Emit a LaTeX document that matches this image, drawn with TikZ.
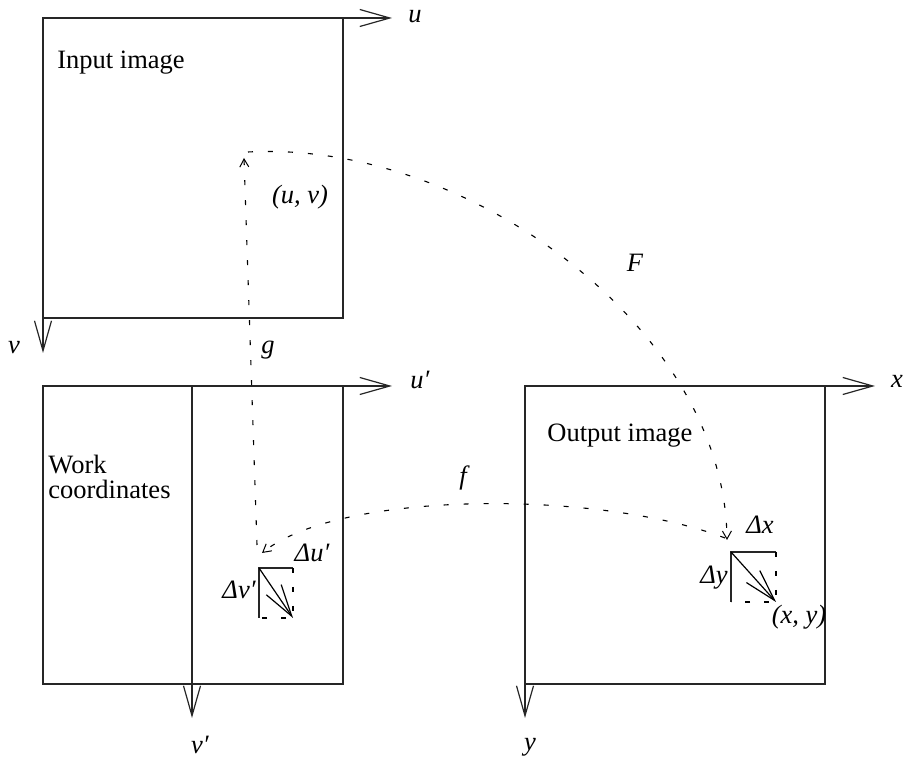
\documentclass[tikz,border=0pt]{standalone}
\usepackage{fontspec}
\setmainfont{Liberation Serif}
\usetikzlibrary{arrows.meta}
\begin{document}
\begin{tikzpicture}[x=0.5pt,y=-0.5pt,
  frame/.style={line width=0.6pt, draw=black!85},
  axis/.style={line width=0.6pt, draw=black!85, -{Straight Barb[length=15pt,width=8.5pt,line width=0.6pt]}},
  txt/.style={font=\fontsize{13.25}{12.5}\selectfont, inner sep=0pt, align=left},
  lbl/.style={font=\fontsize{13.25}{16}\selectfont\itshape, inner sep=0pt},
  map/.style={line width=0.55pt, dash pattern=on 2.5pt off 7.5pt},
  maptip/.style={-{Straight Barb[length=4pt,width=4.5pt,line width=0.5pt]}},
  delta/.style={line width=0.6pt, -{Straight Barb[length=16pt,width=9pt,line width=0.6pt]}},
  side/.style={line width=0.6pt, dash pattern=on 2.5pt off 7pt}
]
\useasboundingbox (0,0) rectangle (905,758);

% ---------- Input image ----------
\coordinate (inTL) at (43,18);
\coordinate (inBR) at (343,318);
\coordinate (uEnd) at (392,18);
\coordinate (vEnd) at (43,353);
\draw[frame] (inTL) rectangle (inBR);
\draw[axis] (inTL) -- (uEnd);
\draw[axis] (inTL) -- (vEnd);
\node[txt, anchor=base west] (inLbl) at (57,69) {Input image};
\node[lbl] (uL) at (415,17) {u};
\node[lbl] (vL) at (14,348) {v};

% ---------- Work coordinates ----------
\coordinate (wkTL) at (43,386);
\coordinate (wkBR) at (343,684);
\coordinate (wkDivTop) at (192,386);
\coordinate (wkDivBot) at (192,684);
\coordinate (upEnd) at (392,386);
\coordinate (vpEnd) at (192,718);
\draw[frame] (wkTL) rectangle (wkBR);
\draw[frame] (wkDivTop) -- (wkDivBot);
\draw[axis] (wkTL) -- (upEnd);
\draw[axis] (wkDivBot) -- (vpEnd);
\node[txt, anchor=base west] (wkLbl1) at (48,474) {Work};
\node[txt, anchor=base west] (wkLbl2) at (48,499) {coordinates};
\node[lbl] (upL) at (420,380) {u′};
\node[lbl] (vpL) at (200,745) {v′};

% ---------- Output image ----------
\coordinate (outTL) at (525,386);
\coordinate (outBR) at (825,684);
\coordinate (xEnd) at (875,386);
\coordinate (yEnd) at (525,718);
\draw[frame] (outTL) rectangle (outBR);
\draw[axis] (outTL) -- (xEnd);
\draw[axis] (outTL) -- (yEnd);
\node[txt, anchor=base west] (outLbl) at (547,442) {Output image};
\node[lbl] (xL) at (897,381) {x};
\node[lbl] (yL) at (530,747) {y};

% ---------- mapping points ----------
\coordinate (Pin) at (244,158);
\coordinate (Fstart) at (248,152);
\coordinate (Pwk) at (262,553);
\coordinate (Gstart) at (257,545);
\coordinate (Pout) at (727,540);
\coordinate (fstart) at (725,538);

\draw[map, maptip] (Gstart) -- (Pin);
\draw[map, maptip] (Fstart) .. controls (470,140) and (725,330) .. (Pout);
\draw[map, maptip] (fstart) .. controls (600,490) and (340,490) .. (Pwk);

\node[lbl] (uvL) at (300,197) {(u, v)};
\node[lbl] (gL) at (268,350) {g};
\node[lbl] (FL) at (635,263) {F};
\node[lbl] (fL) at (463,478) {f};

% ---------- work delta ----------
\coordinate (wdTL) at (259,568);
\coordinate (wdTR) at (293,568);
\coordinate (wdBL) at (259,618);
\coordinate (wdBR) at (293,618);
\draw[frame] (wdBL) -- (wdTL) -- (wdTR);
\draw[side] (wdTR) -- (wdBR) -- (wdBL);
\draw[delta] (wdTL) -- (wdBR);
\node[lbl] (duL) at (312,553) {Δu′};
\node[lbl, anchor=east] (dvL) at (256,590) {Δv′};

% ---------- output delta ----------
\coordinate (odTL) at (731,552);
\coordinate (odTR) at (776,552);
\coordinate (odBL) at (731,602);
\coordinate (odBR) at (776,602);
\draw[frame] (odBL) -- (odTL) -- (odTR);
\draw[side] (odTR) -- (odBR) -- (odBL);
\draw[delta] (odTL) -- (odBR);
\node[lbl] (dxL) at (760,525) {Δx};
\node[lbl, anchor=east] (dyL) at (728,578) {Δy};
\node[lbl] (xyL) at (799,617) {(x, y)};
\end{tikzpicture}
\end{document}
